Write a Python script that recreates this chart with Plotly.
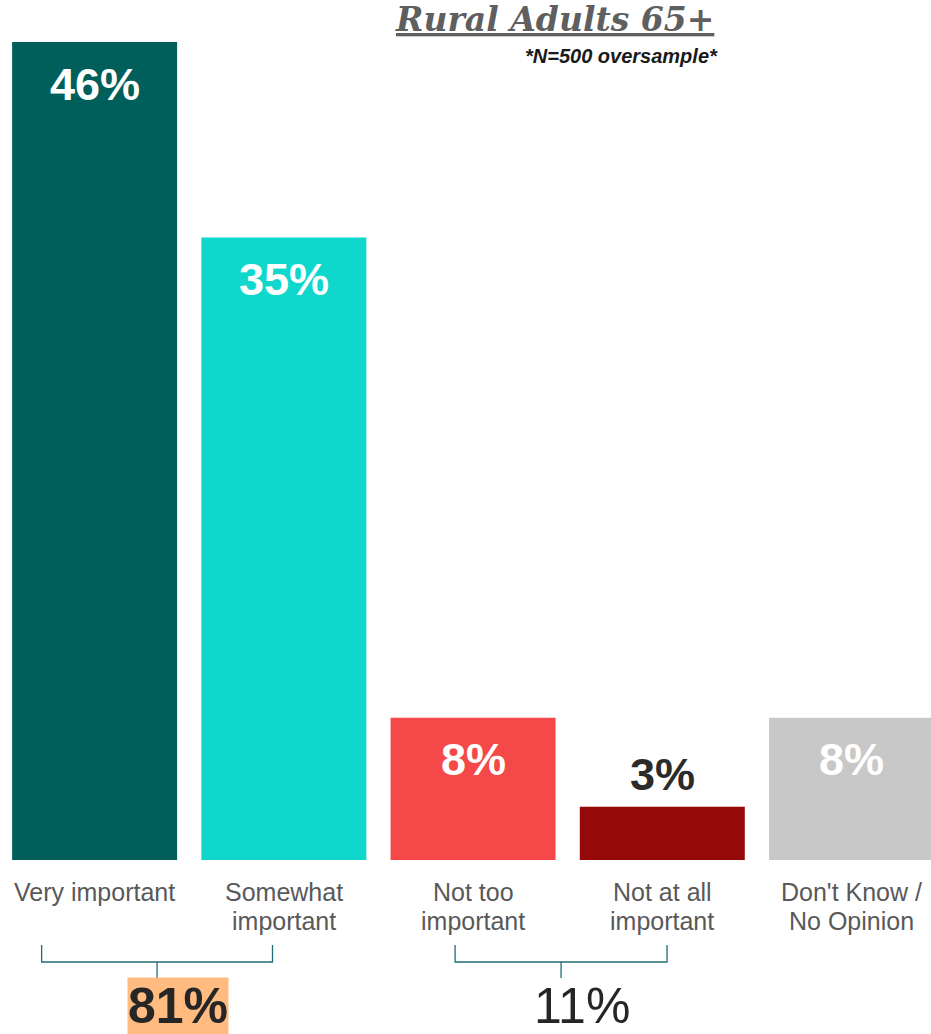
import plotly.graph_objects as go

categories = ["Very important", "Somewhat<br>important", "Not too<br>important",
              "Not at all<br>important", "Don't Know /<br>No Opinion"]
values = [46, 35, 8, 3, 8]
value_labels = ["46%", "35%", "8%", "3%", "8%"]
colors = ["#005F5B", "#10D7CC", "#F54848", "#950909", "#C8C8C8"]
label_inside = [True, True, True, False, True]

group_labels = ["81%", "11%"]
group_spans = [(-0.28, 0.94), (1.905, 3.025)]
group_bold = [True, False]

fig = go.Figure()
fig.add_trace(go.Bar(
    x=list(range(len(categories))), y=values,
    marker=dict(color=colors, line=dict(width=0)),
    width=0.872, hoverinfo="skip",
))

# value labels
for i, (v, lab, inside) in enumerate(zip(values, value_labels, label_inside)):
    fig.add_annotation(
        x=i, y=v, xref="x", yref="y", text="<b>%s</b>" % lab,
        showarrow=False, yanchor="middle",
        yshift=-42 if inside else 32,
        font=dict(family="Liberation Sans, Arial, sans-serif", size=45,
                  color="white" if inside else "#2B2B2B"),
    )

# category labels (each line placed separately for tight line spacing)
for i, c in enumerate(categories):
    for j, line in enumerate(c.split("<br>")):
        fig.add_annotation(
            x=i, y=0, xref="x", yref="y", text=line, showarrow=False,
            yanchor="middle", yshift=-(32 + 29 * j),
            font=dict(family="Liberation Sans, Arial, sans-serif", size=25, color="#595959"),
        )

# brackets
bcol = "#1F6E75"
for (x0, x1), lab, bold in zip(group_spans, group_labels, group_bold):
    xm = (x0 + x1) / 2
    fig.add_shape(type="path", xref="x", yref="paper",
                  path=f"M {x0} {-0.1039} L {x0} {-0.1247} L {x1} {-0.1247} L {x1} {-0.1039}",
                  line=dict(color=bcol, width=1.3))
    fig.add_shape(type="line", xref="x", yref="paper",
                  x0=xm, x1=xm, y0=-0.1247, y1=-0.1443,
                  line=dict(color=bcol, width=1.3))
    fig.add_annotation(
        x=xm, y=-0.1785, xref="x", yref="paper", xshift=21,
        text=("<b>%s</b>" % lab) if bold else lab, showarrow=False,
        yanchor="middle",
        font=dict(family="Liberation Sans, Arial, sans-serif", size=50, color="#262626"),
        bgcolor="#FFBB80" if bold else "rgba(0,0,0,0)", borderpad=0,
    )

# title
fig.add_annotation(
    x=0.596, y=1.027, xref="paper", yref="paper",
    text="<b><i><u>Rural Adults 65+</u></i></b>", showarrow=False,
    xanchor="center", yanchor="middle",
    font=dict(family="DejaVu Serif, serif", size=33, color="#5F5F5F"),
)
fig.add_annotation(
    x=0.7735, y=0.983, xref="paper", yref="paper",
    text="<b><i>*N=500 oversample*</i></b>", showarrow=False,
    xanchor="right", yanchor="middle",
    font=dict(family="Liberation Sans, Arial, sans-serif", size=20, color="#1A1A1A"),
)

fig.update_layout(
    width=931, height=1034,
    margin=dict(l=0, r=0, t=42, b=174),
    plot_bgcolor="white", paper_bgcolor="white",
    showlegend=False,
    xaxis=dict(range=[-0.5, 4.42], showticklabels=False, showgrid=False,
               zeroline=False, showline=False, ticks=""),
    yaxis=dict(range=[0, 46], showticklabels=False, showgrid=False,
               zeroline=False, showline=False, ticks=""),
)

fig.write_html("out.html")
